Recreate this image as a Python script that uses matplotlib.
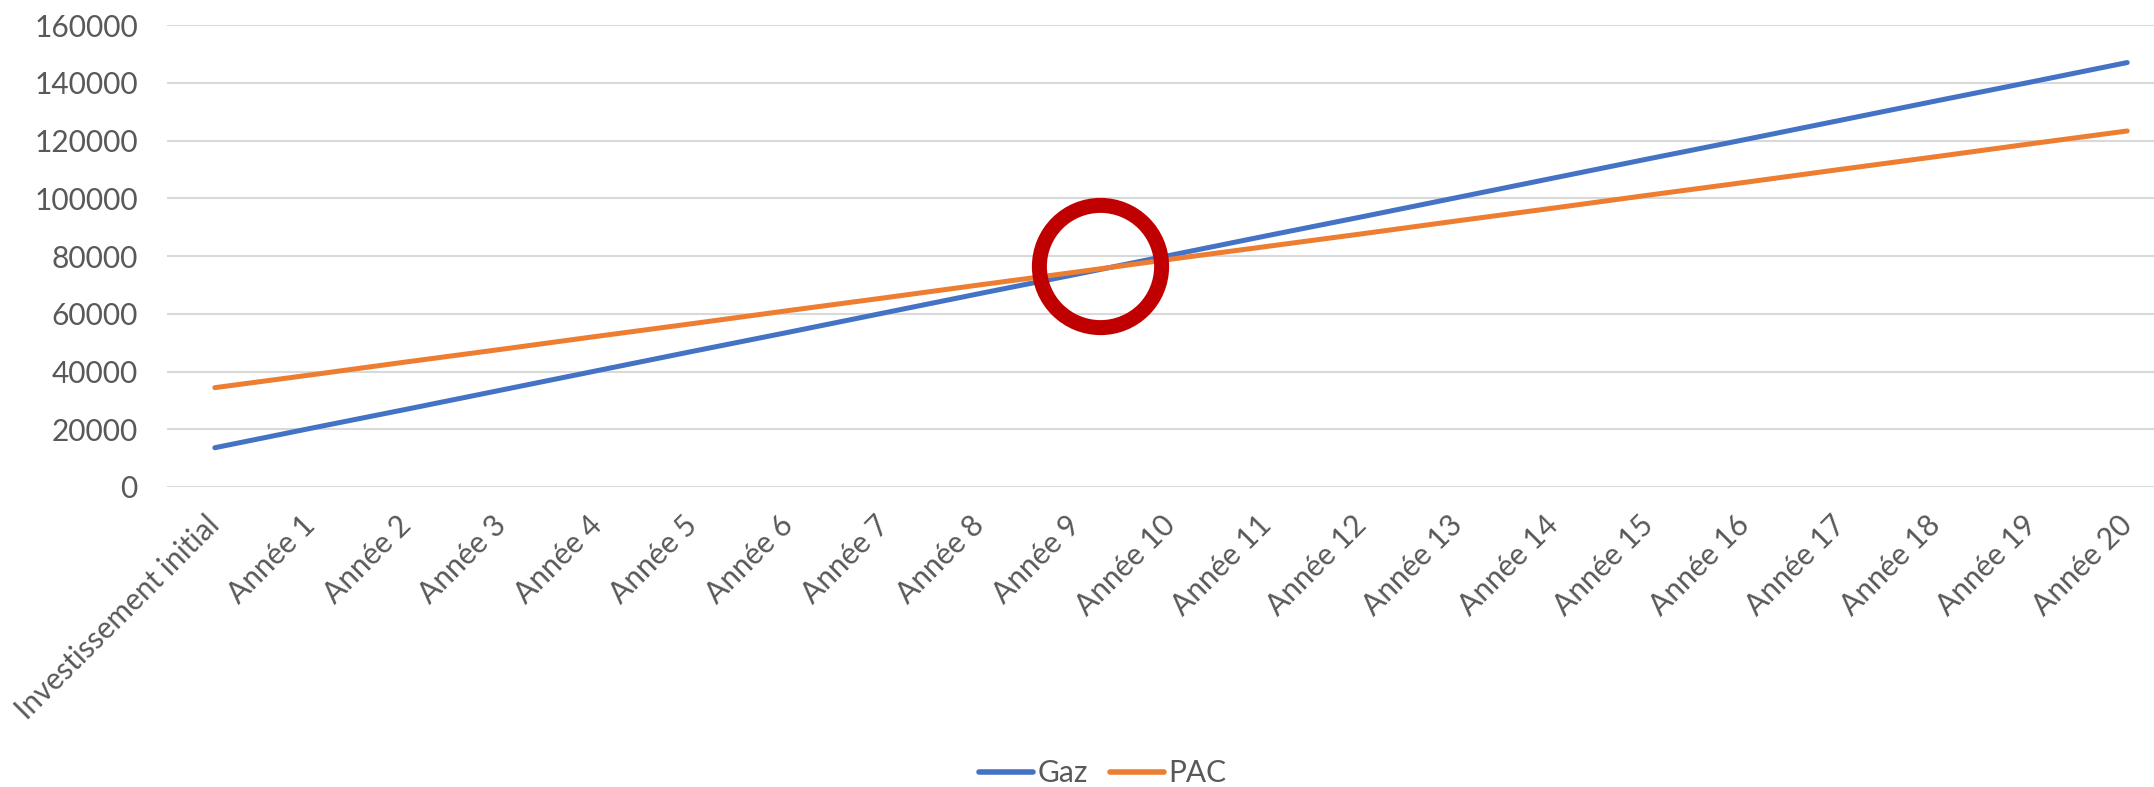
import matplotlib.pyplot as plt

plt.rcParams['font.family'] = ['Lato', 'DejaVu Sans']

categories = ["Investissement initial"] + ["Année %d" % i for i in range(1, 21)]
gaz = [13600, 20300, 26900, 33600, 40300, 47000, 53600, 60300, 67000, 73600,
       80300, 87000, 93600, 100300, 107000, 113700, 120300, 127000, 133700,
       140300, 147000]
pac = [34400, 38800, 43300, 47700, 52200, 56600, 61100, 65500, 70000, 74400,
       78900, 83300, 87700, 92200, 96600, 101100, 105500, 110000, 114400,
       118900, 123300]
yticks = [0, 20000, 40000, 60000, 80000, 100000, 120000, 140000, 160000]
# highlighted crossing point
cross_x, cross_y = 9.26, 76500

grey = "#595959"
fs = 21.5

fig = plt.figure(figsize=(21.54, 7.87), dpi=100)
ax = fig.add_axes([167 / 2154, 300 / 787, 1 - 167 / 2154, 462 / 787])

x = list(range(len(categories)))
ax.plot(x, gaz, color="#4472C4", lw=3.6, solid_capstyle="round", label="Gaz", zorder=3)
ax.plot(x, pac, color="#ED7D31", lw=3.6, solid_capstyle="round", label="PAC", zorder=3)
ax.plot([cross_x], [cross_y], marker="o", ms=88, mfc="none", mec="#C00000",
        mew=10.8, zorder=4)

ax.set_ylim(0, 160000)
ax.set_xlim(-0.5, 20.28)
ax.set_yticks(yticks)
ax.set_yticklabels([str(v) for v in yticks])
ax.grid(axis="y", color="#D9D9D9", lw=1.5)
ax.set_axisbelow(True)
for s in ["top", "right", "left", "bottom"]:
    ax.spines[s].set_visible(False)
ax.tick_params(axis="both", length=0, labelsize=fs, colors=grey)
ax.tick_params(axis="y", pad=21)

ax.set_xticks(x)
ax.set_xticklabels(categories, rotation=45, ha="right", va="center",
                   rotation_mode="anchor")
ax.tick_params(axis="x", pad=24)

leg = fig.legend(loc="center", bbox_to_anchor=(1103 / 2154, 1 - 773 / 787), ncol=2,
                 frameon=False, fontsize=fs, handlelength=1.8, handletextpad=0.15,
                 columnspacing=0.75)
for t in leg.get_texts():
    t.set_color(grey)
for h in leg.legend_handles:
    h.set_linewidth(4)

fig.savefig("out.png", dpi=100)
